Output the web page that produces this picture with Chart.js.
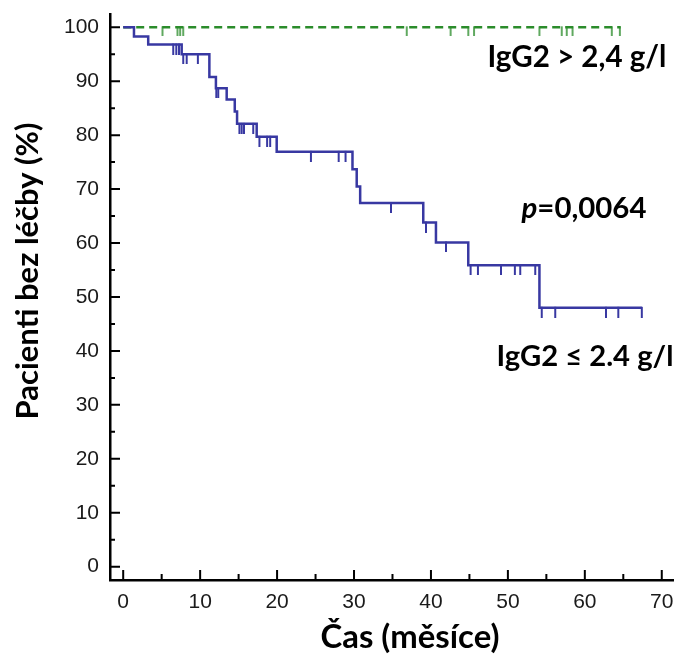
<!DOCTYPE html>
<html>
<head>
<meta charset="utf-8">
<script src="https://cdn.jsdelivr.net/npm/chart.js@4.4.0/dist/chart.umd.min.js"></script>
<style>
  html, body { margin: 0; padding: 0; background: #fff; }
  #wrap { width: 678px; height: 662px; }
</style>
</head>
<body>
<div id="wrap"><canvas id="km" width="678" height="662"></canvas></div>
<script>
// axis ticks
const xTicks = [0, 10, 20, 30, 40, 50, 60, 70];
const xMinorTicks = [5, 15, 25, 35, 45, 55, 65];
const yTicks = [0, 10, 20, 30, 40, 50, 60, 70, 80, 90, 100];
const yMinorTicks = [5, 15, 25, 35, 45, 55, 65, 75, 85, 95];

// IgG2 > 2,4 g/l (no events)
const highTimes = [0, 64.65];
const highValues = [100, 100];
const highCensorTimes = [5.1, 7.05, 7.4, 7.8, 36.85, 42.55, 44.85, 45.6, 54.1, 57.0, 57.65, 58.4, 63.5, 64.55];
const highCensorValues = [100, 100, 100, 100, 100, 100, 100, 100, 100, 100, 100, 100, 100, 100];

// IgG2 <= 2.4 g/l
const lowTimes = [0, 1.4, 3.25, 7.6, 11.2, 12.05, 13.45, 14.5, 14.8, 17.35, 19.95, 29.8, 30.35, 30.8, 39.0, 40.65, 44.85, 54.1, 67.4];
const lowValues = [100, 98.3, 96.8, 95.0, 90.8, 88.7, 86.6, 84.4, 82.1, 79.7, 76.9, 73.7, 70.5, 67.4, 63.8, 60.1, 55.9, 48.0, 48.0];
const lowCensorTimes = [6.5, 6.9, 7.25, 7.8, 8.25, 9.7, 12.1, 12.35, 15.1, 15.4, 15.7, 16.9, 17.7, 18.7, 19.1,
  24.4, 28.0, 28.9, 34.8, 39.35, 41.95, 45.15, 46.1, 49.1, 50.9, 51.6, 53.55, 54.4, 56.15, 62.75, 64.35, 67.4];
const lowCensorValues = [96.8, 96.8, 96.8, 95.0, 95.0, 95.0, 88.7, 88.7, 82.1, 82.1, 82.1, 82.1, 79.7, 79.7, 79.7,
  76.9, 76.9, 76.9, 67.4, 63.8, 60.1, 55.9, 55.9, 55.9, 55.9, 55.9, 55.9, 48.0, 48.0, 48.0, 48.0, 48.0];

const blue = '#3838a2';
const green = '#2b8c2b';

function toPoints(xs, ys) {
  return xs.map((x, i) => ({ x: x, y: ys[i] }));
}

// small vertical tick hanging below the curve, used as point style
function censorMark(color, len, width) {
  const c = document.createElement('canvas');
  c.width = 4;
  c.height = len * 2;
  const g = c.getContext('2d');
  g.strokeStyle = color;
  g.lineWidth = width;
  g.beginPath();
  g.moveTo(2, len - 1);
  g.lineTo(2, len * 2);
  g.stroke();
  return c;
}

function fitSize(ctx, text, style, family, targetWidth) {
  ctx.font = style + ' 100px ' + family;
  return 100 * targetWidth / ctx.measureText(text).width;
}

const decor = {
  id: 'decor',
  afterDraw(chart) {
    const ctx = chart.ctx;
    const xs = chart.scales.x;
    const ys = chart.scales.y;
    const area = chart.chartArea;
    ctx.save();
    // inward tick marks
    ctx.strokeStyle = '#000';
    ctx.lineWidth = 2;
    ctx.beginPath();
    yTicks.forEach(v => { const p = ys.getPixelForValue(v); ctx.moveTo(area.left, p); ctx.lineTo(area.left + 10, p); });
    yMinorTicks.forEach(v => { const p = ys.getPixelForValue(v); ctx.moveTo(area.left, p); ctx.lineTo(area.left + 5, p); });
    xTicks.forEach(v => { const p = xs.getPixelForValue(v); ctx.moveTo(p, area.bottom); ctx.lineTo(p, area.bottom - 10); });
    xMinorTicks.forEach(v => { const p = xs.getPixelForValue(v); ctx.moveTo(p, area.bottom); ctx.lineTo(p, area.bottom - 6); });
    ctx.stroke();

    // labels
    const fam = 'Lato, "Open Sans", sans-serif';
    ctx.fillStyle = '#000';
    ctx.textBaseline = 'alphabetic';
    ctx.textAlign = 'center';

    let s = fitSize(ctx, 'IgG2 > 2,4 g/l', 'bold', fam, 179);
    ctx.font = 'bold ' + s + 'px ' + fam;
    ctx.fillText('IgG2 > 2,4 g/l', 577, 67);

    s = fitSize(ctx, 'IgG2 ≤ 2.4 g/l', 'bold', fam, 177);
    ctx.font = 'bold ' + s + 'px ' + fam;
    ctx.fillText('IgG2 ≤ 2.4 g/l', 585, 366);

    s = fitSize(ctx, 'Čas (měsíce)', 'bold', fam, 179);
    ctx.font = 'bold ' + s + 'px ' + fam;
    ctx.fillText('Čas (měsíce)', 410, 648);

    // p-value: italic p + bold rest
    ctx.font = 'italic bold 100px ' + fam;
    const wp = ctx.measureText('p').width;
    ctx.font = 'bold 100px ' + fam;
    const wr = ctx.measureText('=0,0064').width;
    s = 100 * 125 / (wp + wr);
    const left = 584 - 62.5;
    ctx.textAlign = 'left';
    ctx.font = 'italic bold ' + s + 'px ' + fam;
    ctx.fillText('p', left, 218);
    ctx.font = 'bold ' + s + 'px ' + fam;
    ctx.fillText('=0,0064', left + wp * s / 100, 218);

    // y title
    ctx.textAlign = 'center';
    s = fitSize(ctx, 'Pacienti bez léčby (%)', 'bold', fam, 297);
    ctx.font = 'bold ' + s + 'px ' + fam;
    ctx.translate(38, 271);
    ctx.rotate(-Math.PI / 2);
    ctx.fillText('Pacienti bez léčby (%)', 0, 0);
    ctx.restore();
  }
};

const tickFont = { family: '"Liberation Sans", Arial, sans-serif', size: 21 };

new Chart(document.getElementById('km'), {
  type: 'line',
  data: {
    datasets: [
      {
        label: 'IgG2 ≤ 2.4 g/l',
        data: toPoints(lowTimes, lowValues),
        stepped: true,
        borderColor: blue,
        borderWidth: 2.5,
        pointRadius: 0,
        fill: false
      },
      {
        label: 'IgG2 ≤ 2.4 g/l censored',
        type: 'scatter',
        data: toPoints(lowCensorTimes, lowCensorValues),
        pointStyle: censorMark(blue, 10, 2),
        showLine: false
      },
      {
        label: 'IgG2 > 2,4 g/l',
        data: toPoints(highTimes, highValues),
        borderColor: green,
        borderWidth: 2.5,
        borderDash: [8, 5],
        pointRadius: 0,
        fill: false
      },
      {
        label: 'IgG2 > 2,4 g/l censored',
        type: 'scatter',
        data: toPoints(highCensorTimes, highCensorValues),
        pointStyle: censorMark(green, 9, 1.5),
        showLine: false
      }
    ]
  },
  options: {
    responsive: false,
    animation: false,
    devicePixelRatio: 1,
    layout: { padding: { left: 0, right: 5, top: 14, bottom: 0 }, autoPadding: false },
    plugins: { legend: { display: false }, tooltip: { enabled: false } },
    scales: {
      x: {
        type: 'linear',
        min: -1.716,
        max: 71.46,
        afterBuildTicks: scale => { scale.ticks = xTicks.map(v => ({ value: v })); },
        afterFit: scale => { scale.height = 82; scale.paddingLeft = 0; scale.paddingRight = 0; },
        ticks: { font: tickFont, color: '#1a1a1a', padding: 10, maxRotation: 0, autoSkip: false },
        grid: { display: false, drawTicks: false },
        border: { display: true, color: '#000', width: 2.5 }
      },
      y: {
        type: 'linear',
        min: -2.47,
        max: 102.46,
        afterBuildTicks: scale => { scale.ticks = yTicks.map(v => ({ value: v })); },
        afterFit: scale => { scale.width = 110; scale.paddingTop = 0; scale.paddingBottom = 0; },
        ticks: { font: tickFont, color: '#1a1a1a', padding: 11, autoSkip: false },
        grid: { display: false, drawTicks: false },
        border: { display: true, color: '#000', width: 2.5 }
      }
    }
  },
  plugins: [decor]
});
</script>
</body>
</html>
